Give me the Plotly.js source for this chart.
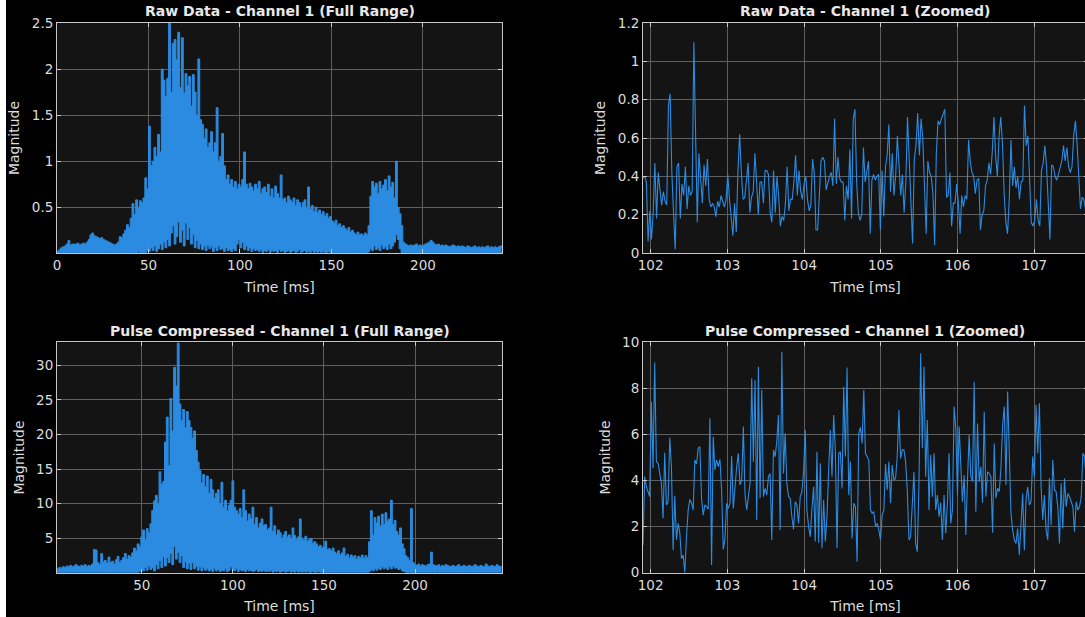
<!DOCTYPE html>
<html><head><meta charset="utf-8">
<script src="https://cdn.plot.ly/plotly-3.0.1.min.js"></script>
<style>
html,body{margin:0;padding:0;background:#ffffff;overflow:hidden;width:1085px;height:617px;}
#plot{position:absolute;left:6px;top:0;width:1130px;height:617px;}
</style></head><body><div id="plot"></div><script>
// ---------- DATA ----------
// Raw data, full range: per-millisecond upper / lower envelope (start 0 ms, step 1 ms)
const rawFullStart = 0, rawFullStep = 1;
const rawFullHi = [
0.02,0.04,0.06,0.07,0.08,0.10,0.14,0.09,0.10,0.10,
0.10,0.11,0.09,0.10,0.11,0.10,0.12,0.15,0.20,0.22,
0.19,0.18,0.17,0.16,0.17,0.15,0.14,0.13,0.12,0.11,
0.10,0.09,0.10,0.12,0.18,0.17,0.21,0.25,0.31,0.28,
0.38,0.54,0.42,0.58,0.50,0.57,0.55,0.60,0.82,0.70,
1.38,0.95,1.00,1.15,1.05,1.29,1.10,2.00,1.88,1.70,
1.90,2.50,1.75,2.28,2.32,2.10,2.40,1.80,2.34,1.74,
1.95,1.82,1.92,1.60,1.94,1.75,1.50,2.11,1.45,1.40,
1.25,1.35,1.15,1.20,1.32,1.10,1.20,1.58,1.00,1.05,
1.30,0.95,0.80,0.85,0.75,0.80,0.72,0.78,0.70,0.75,
0.72,0.80,1.10,0.75,0.70,0.76,0.72,0.68,0.75,0.70,
0.78,0.65,0.70,0.72,0.66,0.75,0.62,0.70,0.60,0.73,
0.65,0.60,0.85,0.58,0.60,0.55,0.62,0.58,0.55,0.60,
0.52,0.58,0.55,0.50,0.55,0.58,0.50,0.72,0.48,0.52,
0.45,0.50,0.44,0.47,0.42,0.45,0.40,0.43,0.38,0.40,
0.35,0.33,0.36,0.30,0.32,0.28,0.30,0.27,0.25,0.28,
0.23,0.25,0.22,0.20,0.23,0.20,0.21,0.19,0.22,0.20,
0.30,0.62,0.78,0.72,0.76,0.65,0.78,0.70,0.74,0.80,
0.68,0.84,0.72,0.77,0.60,1.00,0.50,0.43,0.30,0.12,
0.10,0.09,0.08,0.09,0.08,0.09,0.10,0.08,0.09,0.08,
0.09,0.10,0.11,0.12,0.14,0.12,0.10,0.09,0.10,0.08,
0.09,0.08,0.09,0.08,0.07,0.08,0.09,0.08,0.07,0.08,
0.07,0.08,0.07,0.06,0.08,0.07,0.06,0.07,0.08,0.06,
0.07,0.06,0.07,0.06,0.07,0.08,0.06,0.07,0.06,0.07,
0.06,0.07,0.08,0.06];
const rawFullLo = [
0,0,0.01,0,0.01,0,0.01,0,0.01,0,
0.01,0,0.01,0,0.01,0,0.01,0,0.01,0,
0.01,0,0.01,0,0.01,0,0.01,0,0.01,0,
0.01,0,0.01,0,0.01,0,0.01,0,0.01,0,
0.01,0,0.01,0,0.02,0,0.01,0,0.01,0.03,
0.02,0.06,0.03,0.08,0.02,0.05,0.10,0.04,0.12,0.06,
0.15,0.08,0.22,0.30,0.10,0.18,0.34,0.12,0.25,0.08,
0.33,0.15,0.28,0.10,0.20,0.06,0.14,0.05,0.10,0.04,
0.08,0.03,0.09,0.05,0.07,0.02,0.06,0.03,0.08,0.04,
0.05,0.02,0.06,0.03,0.04,0.02,0.05,0.03,0.10,0.15,
0.06,0.12,0.04,0.08,0.03,0.06,0.02,0.05,0.03,0.04,
0.02,0.04,0.01,0.03,0.02,0.04,0.01,0.03,0.02,0.03,
0.01,0.04,0.02,0.03,0.01,0.02,0.03,0.01,0.02,0.03,
0.01,0.02,0.04,0.01,0.02,0.03,0.01,0.02,0.01,0.03,
0.01,0.02,0.01,0.02,0.01,0.02,0.01,0.01,0.02,0.01,
0.01,0,0.01,0,0.01,0,0.01,0,0.01,0,
0.01,0,0.01,0,0.01,0,0.01,0,0.01,0,
0.02,0.05,0.03,0.08,0.04,0.06,0.03,0.09,0.05,0.07,
0.04,0.10,0.05,0.08,0.12,0.20,0.15,0.05,0.01,0,
0,0.01,0,0.01,0,0.01,0,0.01,0,0.01,
0,0.01,0,0.01,0,0.01,0,0.01,0,0.01,
0,0.01,0,0.01,0,0.01,0,0.01,0,0.01,
0,0.01,0,0.01,0,0.01,0,0.01,0,0.01,
0,0.01,0,0.01,0,0.01,0,0.01,0,0.01,
0,0.01,0,0.01];

// Raw data, zoomed: samples from 101.9 ms, step 0.0221 ms
const rawZoomStart = 101.9, rawZoomStep = 0.0221;
const rawZoom = [
0.39,0.40,0.37,0.06,0.22,0.07,0.21,0.47,0.18,0.42,
0.33,0.25,0.32,0.27,0.25,0.77,0.83,0.42,0.21,0.02,
0.45,0.47,0.18,0.36,0.30,0.45,0.23,0.35,0.30,0.32,
1.10,0.56,0.16,0.52,0.38,0.26,0.46,0.35,0.49,0.28,
0.24,0.26,0.24,0.19,0.27,0.24,0.30,0.27,0.24,0.28,
0.41,0.28,0.17,0.09,0.26,0.11,0.43,0.62,0.42,0.28,
0.29,0.38,0.47,0.21,0.29,0.32,0.52,0.37,0.20,0.37,
0.37,0.26,0.43,0.43,0.41,0.21,0.16,0.43,0.21,0.40,
0.30,0.14,0.19,0.17,0.26,0.45,0.22,0.28,0.28,0.37,
0.51,0.30,0.43,0.32,0.28,0.36,0.40,0.28,0.22,0.25,
0.49,0.42,0.12,0.12,0.35,0.48,0.50,0.48,0.33,0.37,
0.40,0.42,0.35,0.70,0.36,0.50,0.39,0.37,0.37,0.17,
0.35,0.28,0.54,0.18,0.70,0.75,0.37,0.21,0.17,0.20,
0.55,0.37,0.42,0.48,0.10,0.38,0.41,0.38,0.40,0.41,
0.12,0.43,0.19,0.45,0.51,0.67,0.32,0.52,0.30,0.40,
0.61,0.42,0.30,0.41,0.21,0.37,0.71,0.49,0.28,0.05,
0.49,0.56,0.73,0.51,0.70,0.60,0.35,0.10,0.48,0.42,
0.40,0.31,0.04,0.52,0.69,0.67,0.70,0.73,0.75,0.29,
0.30,0.42,0.14,0.26,0.26,0.36,0.26,0.10,0.30,0.24,
0.30,0.28,0.59,0.48,0.42,0.40,0.31,0.38,0.39,0.12,
0.20,0.22,0.35,0.38,0.47,0.41,0.53,0.71,0.50,0.40,
0.61,0.71,0.57,0.31,0.16,0.10,0.28,0.59,0.35,0.45,
0.34,0.40,0.28,0.37,0.38,0.77,0.56,0.61,0.37,0.16,
0.14,0.17,0.28,0.17,0.14,0.43,0.47,0.56,0.45,0.23,
0.07,0.46,0.45,0.40,0.38,0.41,0.44,0.48,0.56,0.48,
0.55,0.45,0.42,0.45,0.61,0.69,0.57,0.38,0.23,0.29,
0.28,0.23,0.23];

// Pulse compressed, full range: per-millisecond envelope (start 3.5 ms, step 1 ms)
const pcFullStart = 3.5, pcFullStep = 1;
const pcFullHi = [
0.6,0.8,0.7,0.9,0.8,1.0,0.9,
1.1,0.9,1.0,1.2,1.0,0.9,1.1,1.0,1.2,0.9,1.1,1.0,1.3,
3.4,3.3,1.5,1.2,2.8,1.6,1.8,
1.4,2.3,1.5,1.7,1.3,1.9,2.4,1.5,1.8,2.2,
2.8,2.0,2.5,2.3,2.9,3.6,3.2,4.2,3.8,5.2,
6.2,4.8,6.4,5.8,7.1,9.0,10.4,11.2,10.0,14.6,
12.8,13.2,18.9,22.5,15.5,25.2,20.5,29.7,27.0,33.2,
24.4,22.0,23.6,21.0,23.3,22.0,21.0,19.5,20.5,17.7,
16.0,14.8,13.0,14.2,12.5,14.0,11.5,13.5,12.0,10.8,
11.5,12.0,10.0,13.1,9.5,10.5,9.0,9.8,10.5,13.3,
9.5,9.0,8.5,9.3,8.0,12.0,9.0,7.5,8.5,7.8,
9.5,7.0,8.0,6.5,7.2,7.8,6.8,7.0,6.2,6.5,
9.5,6.0,6.8,5.5,6.2,5.8,5.0,5.5,6.0,5.2,
5.5,5.0,6.5,5.4,4.8,5.2,7.8,5.0,4.7,5.3,
4.6,4.8,5.0,4.3,4.5,4.2,3.8,4.0,3.6,3.8,
4.6,3.4,3.5,3.2,3.6,3.0,2.8,3.2,2.6,2.9,
3.6,2.4,2.7,2.2,2.6,2.3,2.5,2.0,2.4,2.2,
2.6,2.1,2.5,2.2,4.5,9.0,5.5,8.0,7.2,8.2,
6.8,8.5,7.0,8.7,7.5,7.8,10.5,7.0,7.6,6.0,
5.5,6.5,4.2,3.5,2.5,2.2,1.8,9.3,1.5,1.2,
1.1,1.3,1.0,1.2,1.1,1.0,1.2,1.3,3.0,1.2,
1.1,1.0,1.2,0.9,1.1,1.0,1.2,1.1,0.9,1.0,
1.1,0.9,1.0,1.2,0.9,1.0,1.1,0.9,1.0,1.1,
0.9,1.0,1.2,1.0,0.9,1.1,1.0,0.9,1.3,1.0,
0.9,1.1,1.0,0.9,1.2,1.0,0.9,1.0];
const pcFullLo = [
0.02,0.05,0.02,0.05,0.02,0.05,0.02,0.05,0.02,0.05,
0.02,0.05,0.02,0.05,0.02,0.05,0.02,0.05,0.02,0.05,
0.02,0.05,0.02,0.05,0.02,0.05,0.02,0.05,0.02,0.05,
0.02,0.05,0.02,0.05,0.02,0.05,0.02,0.05,0.02,0.05,
0.02,0.05,0.02,0.05,0.1,
0.2,0.5,0.3,0.8,0.4,1.0,0.5,0.8,0.3,1.2,
0.6,1.8,0.8,2.3,1.0,2.2,1.5,2.8,1.2,3.8,
2.0,3.0,1.5,2.5,0.8,1.6,0.6,1.4,0.5,1.5,
0.6,1.0,0.4,0.9,0.3,0.8,0.4,0.6,0.3,0.5,
0.2,0.6,0.3,0.5,0.2,0.4,0.3,0.6,0.2,0.4,
0.9,0.5,0.3,0.6,0.2,0.5,0.3,0.4,0.2,0.5,
0.3,0.4,0.2,0.3,0.5,0.2,0.3,0.2,0.4,0.2,
0.3,0.2,0.4,0.1,0.3,0.2,0.3,0.1,0.2,0.3,
0.1,0.2,0.3,0.1,0.2,0.1,0.3,0.1,0.2,0.1,
0.2,0.1,0.2,0.1,0.1,0.2,0.1,0.1,0.2,0.1,
0.1,0.05,0.1,0.05,0.1,0.05,0.1,0.05,0.1,0.05,
0.1,0.05,0.1,0.05,0.1,0.05,0.1,0.05,0.1,0.05,
0.1,0.05,0.1,0.05,0.1,0.05,0.2,0.5,0.3,0.6,
0.4,0.7,0.5,0.9,0.6,0.8,0.5,0.9,0.6,1.0,
0.7,0.8,0.5,0.6,0.3,0.2,0.1,0.05,0.1,0.05,
0.05,0.1,0.05,0.1,0.05,0.1,0.05,0.1,0.05,0.1,
0.05,0.1,0.05,0.1,0.05,0.1,0.05,0.1,0.05,0.1,
0.05,0.1,0.05,0.1,0.05,0.1,0.05,0.1,0.05,0.1,
0.05,0.1,0.05,0.1,0.05,0.1,0.05,0.1,0.05,0.1,
0.05,0.1,0.05,0.1,0.05,0.1,0.05,0.1,0.05,0.1];

// Pulse compressed, zoomed: samples from 101.9 ms, step 0.0218 ms
const pcZoomStart = 101.9, pcZoomStep = 0.0218;
const pcZoom = [
1.2,4.17,3.73,3.52,3.3,7.42,4.53,9.12,4.82,4.75,
4.31,3.88,2.36,5.21,2.94,3.08,5.87,4.6,0.98,3.33,
1.42,2.14,1.74,0.62,0.77,0.0,1.56,2.72,3.18,3.04,
2.72,4.89,4.72,5.4,5.47,3.23,2.5,2.94,2.87,2.75,
6.7,0.33,5.9,4.46,4.89,4.6,4.92,3.59,1.01,1.49,
3.01,2.79,3.01,5.06,2.79,3.88,4.6,5.18,3.81,4.02,
6.34,3.37,2.72,3.3,3.88,8.44,4.82,8.36,2.29,8.94,
3.23,7.93,3.3,3.66,3.37,4.17,4.31,1.42,5.33,5.04,
5.69,6.84,1.85,9.59,4.31,6.05,3.88,3.3,3.23,2.43,
1.88,3.08,2.94,2.14,3.3,3.52,4.38,6.19,2.72,2.0,
1.56,2.79,3.73,1.35,5.25,1.3,4.75,1.06,3.15,1.35,
2.43,4.46,6.19,4.17,6.84,5.33,1.06,5.18,5.25,3.66,
8.07,5.04,8.91,3.37,4.82,1.49,3.01,2.87,0.48,6.05,
6.31,5.61,7.93,5.18,5.06,4.89,2.72,2.58,2.65,2.0,
2.14,1.85,1.42,2.5,2.72,4.72,3.59,4.82,3.01,4.67,
4.02,4.1,5.04,7.06,4.96,5.33,5.33,4.82,3.59,1.42,
1.56,3.3,4.38,1.27,0.91,3.88,9.52,5.4,8.94,4.17,
6.63,2.72,5.11,3.3,5.18,2.72,3.37,2.43,3.04,1.42,
3.37,1.71,3.01,5.18,2.14,2.72,7.21,6.27,3.37,6.34,
4.46,3.08,4.24,1.64,4.02,5.98,4.17,3.95,8.29,2.65,
6.48,3.95,4.6,3.04,6.99,3.3,4.38,4.31,4.17,1.74,
5.61,3.23,3.66,3.52,4.53,6.41,7.21,3.81,7.86,5.33,
2.58,1.85,1.42,1.27,1.92,0.77,2.14,3.44,0.98,3.15,
3.73,2.94,3.08,5.04,4.17,7.28,5.18,7.35,3.73,2.29,
3.37,1.85,1.42,4.1,2.07,4.89,3.59,3.52,2.87,1.27,
3.88,1.92,4.1,2.87,3.44,3.3,3.08,2.87,1.78,3.08,
2.72,2.87,3.3,5.18,5.06,4.02];

// Titles and tick labels
const titles = ['Raw Data - Channel 1 (Full Range)','Raw Data - Channel 1 (Zoomed)',
                'Pulse Compressed - Channel 1 (Full Range)','Pulse Compressed - Channel 1 (Zoomed)'];
const xLabel = 'Time [ms]', yLabel = 'Magnitude';
const rawFullXTicks = [0,50,100,150,200];
const rawFullYTicks = [0.5,1,1.5,2,2.5];
const rawFullYText = ['0.5','1','1.5','2','2.5'];
const pcFullXTicks = [50,100,150,200];
const pcFullYTicks = [5,10,15,20,25,30];
const zoomXTicks = [102,103,104,105,106,107];
const rawZoomYTicks = [0,0.2,0.4,0.6,0.8,1,1.2];
const rawZoomYText = ['0','0.2','0.4','0.6','0.8','1','1.2'];
const pcZoomYTicks = [0,2,4,6,8,10];

// ---------- STYLE / LAYOUT ----------
const W = 1130, H = 617;
const BLUE = '#2a8be0';
const FONT = 'DejaVu Sans';
const TXT = '#dcdcdc';
const px = v => v / W;            // paper x (px from paper left)
const py = v => 1 - v / H;        // paper y (px from top)

function ax(extra) {
  return Object.assign({
    showline: true, linecolor: '#c8c8c8', linewidth: 1, mirror: 'ticks',
    ticks: 'inside', ticklen: 4, tickcolor: '#c8c8c8', tickwidth: 1,
    showgrid: true, gridcolor: '#5e5e5e', gridwidth: 1, zeroline: false,
    tickfont: {family: FONT, size: 13.5, color: TXT},
    automargin: false, fixedrange: true
  }, extra);
}
const xt = {text: xLabel, font: {family: FONT, size: 14, color: TXT}, standoff: 9};
const yt = {text: yLabel, font: {family: FONT, size: 14, color: TXT}, standoff: 8};

const leftDom = [px(51), px(496)];
const rightDom = [px(637), px(1082)];
const topDom = [py(253), py(23)];
const botDom = [py(572.7), py(342.3)];

const line = {color: BLUE, width: 1.1};
const stepLine = {color: BLUE, width: 1, shape: 'hv'};
const traces = [
  {type:'scatter', mode:'lines', x0: rawFullStart, dx: rawFullStep, y: rawFullLo, line: stepLine, xaxis:'x', yaxis:'y', hoverinfo:'skip'},
  {type:'scatter', mode:'lines', x0: rawFullStart, dx: rawFullStep, y: rawFullHi, line: stepLine, fill:'tonexty', fillcolor: BLUE, xaxis:'x', yaxis:'y'},
  {type:'scatter', mode:'lines', x0: rawZoomStart, dx: rawZoomStep, y: rawZoom, line: line, xaxis:'x2', yaxis:'y2'},
  {type:'scatter', mode:'lines', x0: pcFullStart, dx: pcFullStep, y: pcFullLo, line: stepLine, xaxis:'x3', yaxis:'y3', hoverinfo:'skip'},
  {type:'scatter', mode:'lines', x0: pcFullStart, dx: pcFullStep, y: pcFullHi, line: stepLine, fill:'tonexty', fillcolor: BLUE, xaxis:'x3', yaxis:'y3'},
  {type:'scatter', mode:'lines', x0: pcZoomStart, dx: pcZoomStep, y: pcZoom, line: line, xaxis:'x4', yaxis:'y4'}
];

function ttl(i, xc, yc) {
  return {text: titles[i], xref:'paper', yref:'paper', x: px(xc), y: py(yc),
    xanchor:'center', yanchor:'middle', showarrow:false,
    font:{family: FONT, size: 14, color:'#e8e8e8', weight:'bold'}};
}

const layout = {
  width: W, height: H, margin: {l:0, r:0, t:0, b:0},
  paper_bgcolor: '#000000', plot_bgcolor: '#141414', showlegend: false,
  font: {family: FONT, color: TXT},
  xaxis:  ax({domain: leftDom,  anchor:'y',  range:[0, 243.2], tickvals: rawFullXTicks, title: xt}),
  yaxis:  ax({domain: topDom,   anchor:'x',  range:[0.003, 2.5], tickvals: rawFullYTicks, ticktext: rawFullYText, title: yt}),
  xaxis2: ax({domain: rightDom, anchor:'y2', range:[101.9, 107.7], tickvals: zoomXTicks, title: xt}),
  yaxis2: ax({domain: topDom,   anchor:'x2', range:[0, 1.2], tickvals: rawZoomYTicks, ticktext: rawZoomYText, title: yt}),
  xaxis3: ax({domain: leftDom,  anchor:'y3', range:[3.5, 247.7], tickvals: pcFullXTicks, title: xt}),
  yaxis3: ax({domain: botDom,   anchor:'x3', range:[0.04, 33.3], tickvals: pcFullYTicks, title: yt}),
  xaxis4: ax({domain: rightDom, anchor:'y4', range:[101.9, 107.7], tickvals: zoomXTicks, title: xt}),
  yaxis4: ax({domain: botDom,   anchor:'x4', range:[0, 10], tickvals: pcZoomYTicks, title: yt}),
  annotations: [ttl(0, 273.5, 11), ttl(1, 859.5, 11), ttl(2, 273.8, 331), ttl(3, 859.3, 331)]
};

Plotly.newPlot('plot', traces, layout, {displayModeBar: false, staticPlot: true});
</script></body></html>
